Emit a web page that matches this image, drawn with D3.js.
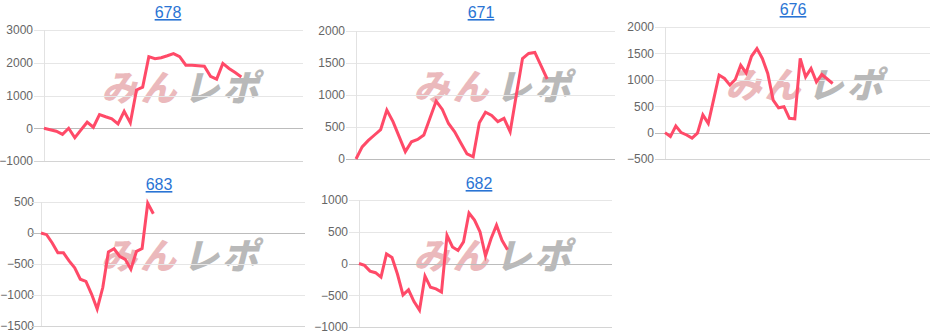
<!DOCTYPE html>
<html>
<head>
<meta charset="utf-8">
<script src="https://cdn.jsdelivr.net/npm/d3@7"></script>
<style>
  html, body { margin: 0; padding: 0; background: #fff; }
  svg { display: block; }
  .tick-label { font-family: "Liberation Sans", Arial, sans-serif; font-size: 12px; fill: #666; }
  .title { font-family: "Liberation Sans", Arial, sans-serif; font-size: 16px; fill: #2a74d4; text-decoration: underline; }
</style>
</head>
<body>
<div id="chart"></div>
<script>
// machine numbers (chart titles)
const machines = ['678', '671', '676', '683', '682'];

// slump values per machine
const values678 = [0, -45, -90, -185, 0, -290, -50, 185, 30, 415, 350, 290, 135, 520, 165, 1170, 1255,
  2185, 2125, 2155, 2215, 2280, 2185, 1925, 1925, 1910, 1895, 1585, 1500, 1980, 1825, 1700, 1565];
const values671 = [0, 190, 290, 375, 460, 765, 585, 350, 115, 270, 305, 375, 640, 905, 775, 555, 425,
  250, 80, 35, 565, 730, 680, 585, 635, 425, 1000, 1570, 1650, 1665, 1460, 1250];
const values676 = [0, -75, 125, 0, -45, -105, -10, 335, 175, 630, 1090, 1025, 900, 1005, 1275, 1130,
  1445, 1590, 1405, 1120, 615, 470, 490, 270, 260, 1405, 1055, 1215, 960, 1100, 1015, 930];
const values683 = [0, -27, -160, -320, -320, -450, -560, -745, -780, -985, -1225, -880, -305, -255,
  -375, -425, -585, -295, -250, 480, 310];
const values682 = [0, -30, -120, -145, -215, 150, 95, -170, -495, -415, -600, -735, -200, -375, -400,
  -450, 445, 260, 205, 340, 795, 685, 500, 120, 390, 605, 365, 215];

// y axis ranges and tick labels
const yMins = [-1000, 0, -500, -1500, -1000];
const yMaxs = [3000, 2000, 2000, 500, 1000];
const ticks678 = [-1000, 0, 1000, 2000, 3000];
const ticks671 = [0, 500, 1000, 1500, 2000];
const ticks676 = [-500, 0, 500, 1000, 1500, 2000];
const ticks683 = [-1500, -1000, -500, 0, 500];
const ticks682 = [-1000, -500, 0, 500, 1000];

// number of x slots on each (hidden) x axis
const xSlots = [42, 42, 49, 47, 46];

const seriesList = [values678, values671, values676, values683, values682];
const tickList = [ticks678, ticks671, ticks676, ticks683, ticks682];

// panel layout
const panels = [
  { left: 44, right: 303, top: 30, bottom: 161, titleX: 168, titleY: 12, pad: 11 },
  { left: 356, right: 615, top: 31, bottom: 159, titleX: 481, titleY: 12, pad: 11 },
  { left: 665, right: 930, top: 27, bottom: 159, titleX: 793, titleY: 9, pad: 11 },
  { left: 41, right: 305, top: 202, bottom: 326, titleX: 159, titleY: 184, pad: 7 },
  { left: 359, right: 612, top: 200, bottom: 327, titleX: 479, titleY: 183, pad: 11 }
];

const width = 942;
const height = 336;

const svg = d3.select('#chart')
  .append('svg')
  .attr('width', width)
  .attr('height', height);

machines.forEach((name, i) => {
  const p = panels[i];
  const w = p.right - p.left;
  const h = p.bottom - p.top;

  const x = d3.scaleLinear().domain([0, xSlots[i]]).range([0, w]);
  const y = d3.scaleLinear().domain([yMins[i], yMaxs[i]]).range([h, 0]);

  // title
  svg.append('text')
    .attr('class', 'title')
    .attr('x', p.titleX)
    .attr('y', p.titleY + 6)
    .attr('text-anchor', 'middle')
    .text(name);

  const g = svg.append('g')
    .attr('transform', `translate(${p.left},${p.top})`);

  // watermark logo
  const wm = g.append('g')
    .attr('transform', `translate(${w / 2 + 8},${h / 2 - 3})`)
    .style('font-family', '"Noto Sans CJK JP", sans-serif')
    .style('font-weight', 900)
    .style('font-size', '36px')
    .style('letter-spacing', '3px');
  wm.append('text')
    .attr('text-anchor', 'end')
    .attr('transform', 'skewX(-14)')
    .attr('x', 0)
    .attr('y', 8)
    .attr('fill', '#ebb9bc')
    .text('みん');
  wm.append('text')
    .attr('text-anchor', 'start')
    .attr('transform', 'skewX(-14)')
    .attr('x', 4)
    .attr('y', 8)
    .attr('fill', '#b9b9b9')
    .text('レポ');

  // y axis with grid lines
  const yAxis = d3.axisLeft(y)
    .tickValues(tickList[i])
    .tickSize(0)
    .tickPadding(p.pad)
    .tickFormat(d3.format('d'));

  const ax = g.append('g').call(yAxis);
  ax.select('.domain').remove();
  ax.selectAll('text').attr('class', 'tick-label');
  ax.selectAll('.tick')
    .append('line')
    .attr('x1', -10)
    .attr('x2', w)
    .attr('stroke', d => d === 0 ? '#bcbcbc' : (d === yMins[i] ? '#d4d4d4' : '#e6e6e6'))
    .attr('stroke-width', 1)
    .attr('shape-rendering', 'crispEdges');

  // left axis line
  g.append('line')
    .attr('x1', 0).attr('x2', 0)
    .attr('y1', 0).attr('y2', h)
    .attr('stroke', '#e2e2e2')
    .attr('shape-rendering', 'crispEdges');

  // slump line
  const line = d3.line()
    .x((d, j) => x(j))
    .y(d => y(d));

  g.append('path')
    .datum(seriesList[i])
    .attr('fill', 'none')
    .attr('stroke', '#ff4a68')
    .attr('stroke-width', 3)
    .attr('stroke-linejoin', 'miter')
    .attr('d', line);
});
</script>
</body>
</html>
